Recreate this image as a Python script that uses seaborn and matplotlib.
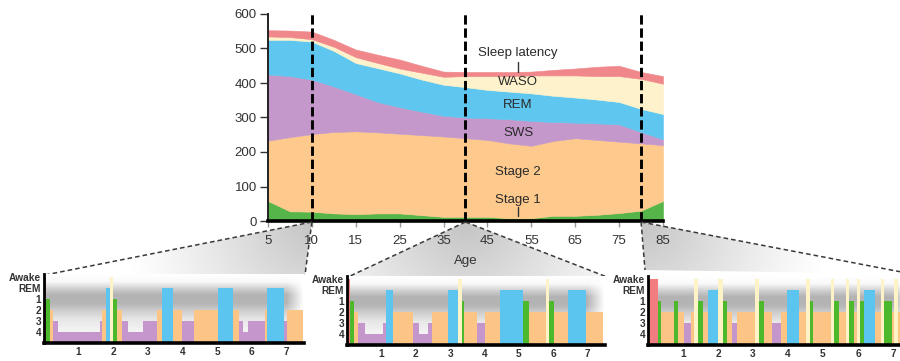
import numpy as np
import matplotlib
matplotlib.use("Agg")
import matplotlib.pyplot as plt
from matplotlib.patches import Polygon
import seaborn as sns

sns.set_theme(style="ticks")
plt.rcParams["font.family"] = ["Liberation Sans", "DejaVu Sans"]

# ---- nightly sleep composition across the lifespan (minutes) ----
age_ticks = [5, 10, 15, 25, 35, 45, 55, 65, 75, 85]
sample_ages = [5, 7.5, 10, 12.5, 15, 20, 25, 30, 35, 40, 45, 50, 55, 60, 65, 70, 75, 80, 85]
stage1 = [58, 28, 27, 22, 20, 22, 22, 17, 12, 12, 12, 8, 8, 15, 15, 18, 23, 30, 58]
stage2 = [175, 215, 225, 236, 240, 235, 231, 232, 233, 228, 223, 217, 210, 217, 225, 217, 207, 195, 162]
sws = [192, 177, 158, 132, 108, 88, 77, 68, 60, 60, 63, 70, 72, 55, 45, 48, 50, 33, 17]
rem = [100, 105, 110, 103, 90, 98, 98, 93, 90, 88, 82, 80, 80, 76, 73, 69, 65, 67, 73]
waso = [10, 8, 7, 12, 17, 15, 14, 20, 23, 32, 40, 45, 52, 59, 64, 68, 75, 87, 88]
latency = [18, 19, 22, 20, 22, 24, 26, 20, 15, 12, 12, 12, 11, 16, 20, 27, 30, 20, 22]

layer_names = ["Stage 1", "Stage 2", "SWS", "REM", "WASO", "Sleep latency"]
layer_colors = ["#55b548", "#fdc98c", "#c498cb", "#5fc7ef", "#fdf2cb", "#f0878a"]

zoom_ages = [10, 40, 80]

# ---- example hypnograms (stage, duration in hours) ----
young_stages = ["L", "1", "2", "3", "4", "3", "2", "REM", "W", "1", "2", "3", "4", "3", "2",
                "REM", "2", "3", "2", "REM", "2", "3", "4", "3", "2", "REM", "3", "2"]
young_hours = [0.06, 0.12, 0.09, 0.14, 1.21, 0.06, 0.12, 0.09, 0.09, 0.14, 0.14, 0.17, 0.43, 0.40, 0.14,
               0.32, 0.26, 0.35, 0.69, 0.43, 0.17, 0.12, 0.14, 0.49, 0.06, 0.49, 0.09, 0.46]

mid_stages = ["L", "1", "2", "3", "4", "3", "REM", "2", "3", "4", "3", "2", "REM", "W", "1", "2",
              "3", "2", "REM", "1", "2", "W", "1", "2", "REM", "2"]
mid_hours = [0.09, 0.12, 0.12, 0.20, 0.52, 0.09, 0.20, 0.58, 0.17, 0.26, 0.12, 0.47, 0.29, 0.12, 0.06, 0.38,
             0.23, 0.44, 0.67, 0.17, 0.49, 0.09, 0.15, 0.38, 0.55, 0.49]

old_stages = ["L", "1", "2", "1", "2", "3", "2", "W", "1", "2", "REM", "W", "1", "2", "3", "2",
              "W", "1", "2", "3", "2", "REM", "2", "W", "1", "2", "W", "1", "2", "W", "1", "2",
              "W", "1", "REM", "2", "W", "1", "2", "W", "2"]
old_hours = [0.29, 0.09, 0.37, 0.11, 0.17, 0.20, 0.09, 0.11, 0.14, 0.14, 0.29, 0.14, 0.11, 0.14, 0.14, 0.54,
             0.11, 0.14, 0.23, 0.26, 0.17, 0.34, 0.20, 0.11, 0.09, 0.51, 0.09, 0.14, 0.20, 0.09, 0.14, 0.09,
             0.09, 0.11, 0.31, 0.17, 0.09, 0.23, 0.06, 0.09, 0.34]

stage_height = {"4": 1, "3": 2, "2": 3, "1": 4, "REM": 5, "W": 6, "L": 6}
stage_color = {"4": "#c596cc", "3": "#c596cc", "2": "#fdc585", "1": "#4cb82c",
               "REM": "#5bc5f0", "W": "#fdf3c6", "L": "#f27d81"}
stage_ticks = [6, 5, 4, 3, 2, 1]
stage_ticklabels = ["Awake", "REM", "1", "2", "3", "4"]
hour_ticks = [1, 2, 3, 4, 5, 6, 7]

W, H = 900, 361
fig = plt.figure(figsize=(W / 100, H / 100), dpi=100)
fig.patch.set_facecolor("white")


def px_axes(x0, y_top, x1, y_bot, **kw):
    return fig.add_axes([x0 / W, 1 - y_bot / H, (x1 - x0) / W, (y_bot - y_top) / H], **kw)


def age_to_pos(age):
    return np.interp(age, age_ticks, np.arange(len(age_ticks)))


# ---- main stacked area chart ----
MAIN = (268, 14, 663, 221)
ax = px_axes(*MAIN, zorder=1)
xpos = age_to_pos(sample_ages)
ax.stackplot(xpos, stage1, stage2, sws, rem, waso, latency,
             colors=layer_colors, labels=layer_names, edgecolor="face", linewidth=0.4)
ax.set_xlim(0, len(age_ticks) - 1)
ax.set_ylim(0, 600)
ax.set_yticks(range(0, 601, 100))
ax.set_xticks(np.arange(len(age_ticks)))
ax.set_xticklabels([str(a) for a in age_ticks])
ax.tick_params(axis="y", length=6, width=1, color="#333333", pad=2, labelsize=9.5, labelcolor="#333333")
ax.tick_params(axis="x", length=4, width=1, color="#999999", pad=6, labelsize=9.5, labelcolor="#333333")
ax.set_xlabel("Age", fontsize=9.5, color="#333333", labelpad=6)
sns.despine(ax=ax)
ax.spines["left"].set_linewidth(1.4)
ax.spines["left"].set_color("#222222")
ax.spines["bottom"].set_linewidth(2.6)
ax.spines["bottom"].set_color("black")

zoom_pos = age_to_pos(zoom_ages)
for p in zoom_pos:
    ax.axvline(p, color="black", lw=2.1, ls=(0, (3.2, 1.3)), zorder=5)

label_x = age_to_pos(52)
label_kw = dict(ha="center", va="center", fontsize=9.5, color="#2a2a2a", zorder=6)
ax.text(label_x, 487, "Sleep latency", **label_kw)
ax.text(label_x, 403, "WASO", **label_kw)
ax.text(label_x, 336, "REM", **label_kw)
ax.text(label_x, 255, "SWS", **label_kw)
ax.text(label_x, 142, "Stage 2", **label_kw)
ax.text(label_x, 61, "Stage 1", **label_kw)
ax.plot([label_x, label_x], [461, 433], color="#333333", lw=1, zorder=6)
ax.plot([label_x, label_x], [42, 14], color="#333333", lw=1, zorder=6)

# ---- zoom cones linking the age markers to the hypnograms ----
bg = fig.add_axes([0, 0, 1, 1], zorder=0)
fg = fig.add_axes([0, 0, 1, 1], zorder=2)
for a in (bg, fg):
    a.set_xlim(0, W)
    a.set_ylim(H, 0)
    a.axis("off")

apex_x = MAIN[0] + zoom_pos / (len(age_ticks) - 1) * (MAIN[2] - MAIN[0])
apex_y = MAIN[3] + 1
cone_ends = [((45, 275), (305, 275)), ((348, 277), (607, 277)), ((645, 270), (912, 274))]

gy, gx = np.mgrid[0:H, 0:W]
for axx, (left, right) in zip(apex_x, cone_ends):
    d = np.hypot(gx - axx, gy - apex_y)
    alpha = 0.42 * np.clip(1 - d / 190.0, 0, 1) ** 1.2
    rgba = np.zeros((H, W, 4))
    rgba[..., :3] = 0.45
    rgba[..., 3] = alpha
    im = bg.imshow(rgba, extent=(0, W, H, 0), aspect="auto", interpolation="bilinear")
    poly = Polygon([(axx, apex_y), left, right], closed=True, facecolor="none", edgecolor="none",
                   transform=bg.transData)
    bg.add_patch(poly)
    im.set_clip_path(poly)
    for end in (left, right):
        fg.plot([axx, end[0]], [apex_y, end[1]], color="#3a3a3a", lw=1.1, ls=(0, (3, 2)))
bg.set_xlim(0, W)
bg.set_ylim(H, 0)


# ---- hypnogram insets ----
def draw_hypnogram(axh, stages, hours):
    xmax, ymax = 7.5, 6.3
    lv = np.linspace(0, ymax, 200)
    shade = np.interp(lv, [0, 1.2, 2.2, 3.0, 3.6, 4.4, 5.0, 5.6, 6.3],
                      [0.95, 0.95, 0.90, 0.80, 0.71, 0.70, 0.82, 0.97, 1.0])
    xs = np.linspace(0, xmax, 300)
    fade = np.clip((xs - 7.0) / 0.5, 0, 1)
    img = shade[:, None] + (1 - shade[:, None]) * fade[None, :]
    axh.imshow(img, extent=(0, xmax, 0, ymax), origin="lower", aspect="auto",
               cmap="gray", vmin=0, vmax=1, zorder=0)
    starts = np.concatenate([[0], np.cumsum(hours)[:-1]])
    axh.bar(starts, [stage_height[s] for s in stages], width=hours, align="edge",
            color=[stage_color[s] for s in stages], linewidth=0, zorder=2)
    axh.set_xlim(0, xmax)
    axh.set_ylim(0, ymax)
    axh.set_yticks(stage_ticks)
    axh.set_yticklabels(stage_ticklabels)
    axh.set_xticks(hour_ticks)
    axh.set_xticklabels([str(h) for h in hour_ticks])
    axh.tick_params(axis="y", length=0, labelsize=7.3, pad=2, labelcolor="#333333")
    axh.tick_params(axis="x", length=0, labelsize=7.3, pad=3, labelcolor="#333333")
    for lab in axh.get_xticklabels() + axh.get_yticklabels():
        lab.set_fontweight("bold")
    sns.despine(ax=axh)
    axh.spines["left"].set_linewidth(2)
    axh.spines["left"].set_color("black")
    axh.spines["bottom"].set_linewidth(2.6)
    axh.spines["bottom"].set_color("black")


ins1 = px_axes(44, 274, 304, 343, zorder=3)
draw_hypnogram(ins1, young_stages, young_hours)
ins2 = px_axes(347, 276, 605, 345, zorder=3)
draw_hypnogram(ins2, mid_stages, mid_hours)
ins3 = px_axes(648, 276, 910.5, 345, zorder=3)
draw_hypnogram(ins3, old_stages, old_hours)

fig.savefig("out.png", dpi=100)
